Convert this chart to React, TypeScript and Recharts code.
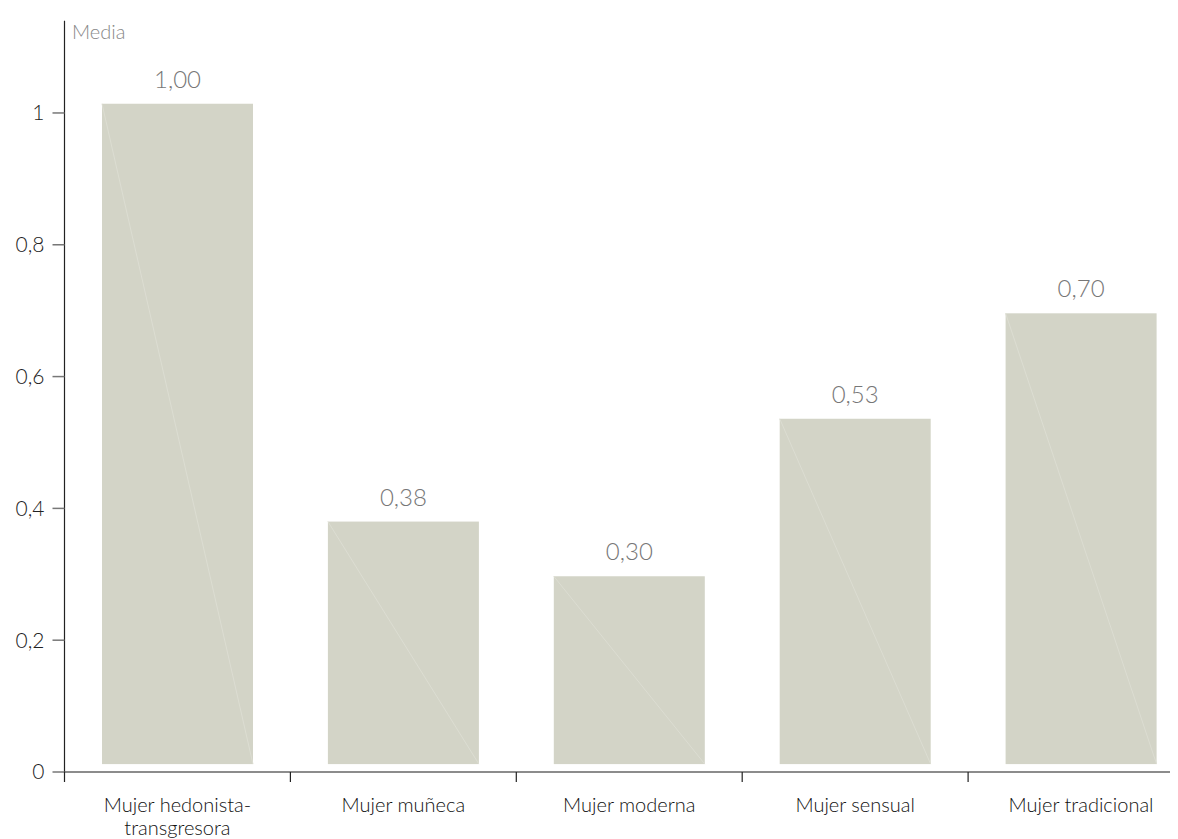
import React from "react";
import { BarChart, Bar, XAxis, YAxis, LabelList } from "recharts";

const categories = [
  "Mujer hedonista-transgresora",
  "Mujer muñeca",
  "Mujer moderna",
  "Mujer sensual",
  "Mujer tradicional",
];
const values = [1.014, 0.38, 0.297, 0.536, 0.696];
const valueLabels = ["1,00", "0,38", "0,30", "0,53", "0,70"];
const barBase = 0.012;
const yTicks = [0, 0.2, 0.4, 0.6, 0.8, 1];

const data = categories.map((name, i) => ({
  name,
  range: [barBase, values[i]],
  label: valueLabels[i],
}));

const FONT = "Lato, 'DejaVu Sans', sans-serif";

const BarShape = (props: any) => {
  const { x, y, width, height } = props;
  if (width == null || height == null) return null;
  return (
    <g>
      <rect x={x} y={y} width={width} height={height} fill="#d3d4c7" />
      <line x1={x} y1={y} x2={x + width} y2={y + height} stroke="#dcddd2" strokeWidth={1} />
    </g>
  );
};

const CatTick = (props: any) => {
  const { x, y, payload, width, visibleTicksCount } = props;
  const band = width && visibleTicksCount ? width / visibleTicksCount : 226;
  const s: string = String(payload.value);
  const idx = s.indexOf("-");
  const lines = idx >= 0 ? [s.slice(0, idx + 1), s.slice(idx + 1)] : [s];
  const bx = x - band / 2;
  return (
    <g>
      <line x1={bx} y1={y} x2={bx} y2={y + 10} stroke="#222" strokeWidth={1.2} />
      <text x={x} y={y} textAnchor="middle" fill="#111" fontSize={20} fontFamily={FONT} fontWeight={300}>
        {lines.map((l, i) => (
          <tspan key={i} x={x} dy={i === 0 ? 40 : 23}>
            {l}
          </tspan>
        ))}
      </text>
    </g>
  );
};

const MediaLabel = (props: any) => {
  const vb = props.viewBox || {};
  return (
    <text x={vb.x + vb.width + 7.5} y={vb.y + 18} fill="#888" fontSize={20} fontFamily={FONT} fontWeight={300}>
      Media
    </text>
  );
};

export default function App() {
  return (
    <div style={{ width: 1200, height: 831 }}>
      <BarChart
        width={1200}
        height={831}
        data={data}
        margin={{ top: 12.7, right: 14, bottom: 0, left: 0 }}
        barCategoryGap="16.6%"
      >
        <XAxis
          dataKey="name"
          height={67}
          axisLine={{ stroke: "#666", strokeWidth: 1.5 }}
          tickLine={false}
          tickSize={0}
          tickMargin={0}
          tick={<CatTick />}
          interval={0}
        />
        <YAxis
          width={56.5}
          domain={[0, 1.14]}
          ticks={yTicks}
          allowDataOverflow
          axisLine={{ stroke: "#222", strokeWidth: 1.2 }}
          tickLine={{ stroke: "#777", strokeWidth: 1.5 }}
          tickSize={12}
          tickMargin={8}
          tick={{ fill: "#222", fontSize: 21, fontFamily: FONT, fontWeight: 300 }}
          tickFormatter={(v: number) => String(v).replace(".", ",")}
          label={{ content: <MediaLabel /> }}
        />
        <Bar dataKey="range" shape={<BarShape />} isAnimationActive={false}>
          <LabelList
            dataKey="label"
            position="top"
            offset={16}
            fill="#777"
            fontSize={24}
            fontFamily={FONT}
            fontWeight={300}
          />
        </Bar>
      </BarChart>
    </div>
  );
}
